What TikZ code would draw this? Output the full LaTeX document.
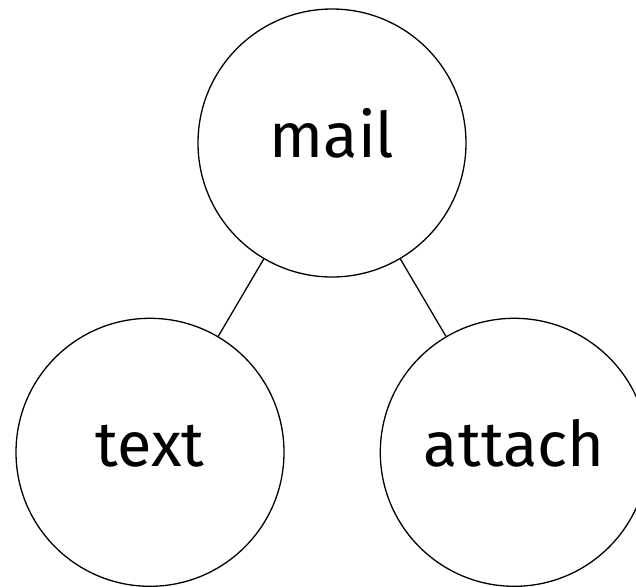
\documentclass[tikz,border=0pt]{standalone}
\usepackage{fontspec}
\setmainfont{Fira Sans}
\usetikzlibrary{positioning}
\tikzset{
  entity/.style={circle, draw, line width=1.3pt, minimum size=268pt, inner sep=0pt,
    font=\fontsize{63}{70}\selectfont, text height=47pt, text depth=19pt}
}

\begin{document}
\begin{tikzpicture}[x=1pt, y=1pt]
  \useasboundingbox (0,0) rectangle (636,-586);
  % Define nodes
  \node[entity] (mail) at (332,-143) {mail};
  \node[entity, below=40pt of mail, xshift=-182pt] (text) {text};
  \node[entity, right=95pt of text] (attach) {attach};
  % Connect nodes
  \draw[line width=1.3pt] (mail) -- (text);
  \draw[line width=1.3pt] (mail) -- (attach);
\end{tikzpicture}
\end{document}
